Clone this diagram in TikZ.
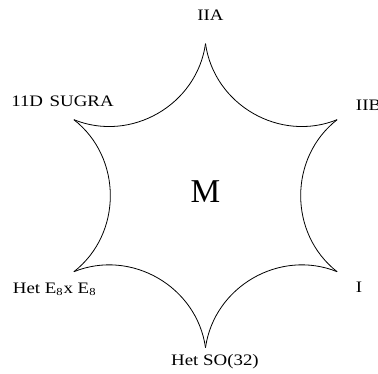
\documentclass[tikz,border=0pt]{standalone}
\usepackage{fontspec}
\setmainfont{Liberation Serif}
\usepackage{graphicx}
\usetikzlibrary{positioning}
\definecolor{MtInk}{RGB}{0,0,0}
\newcommand{\mtwide}[1]{\scalebox{1.18}[1]{#1}}
\tikzset{
  mt/label/.style={
    inner sep=0pt,
    text=MtInk,
    font=\fontsize{12}{14}\selectfont
  },
  mt/big/.style={
    inner sep=0pt,
    text=MtInk,
    font=\fontsize{25}{29}\selectfont
  },
  mt/edge/.style={draw=MtInk, line width=0.6pt, bend right=52, looseness=1.04}
}

\begin{document}
\begin{tikzpicture}[x=0.75pt,y=0.75pt]
  \useasboundingbox (0,0) rectangle (378,374);
  % cusps of the star
  \coordinate (iia) at (205.5,330.3);
  \coordinate (iib) at (337.1,254.3);
  \coordinate (typeI) at (337.1,102.3);
  \coordinate (hetSO) at (205.5,26.3);
  \coordinate (hetE) at (73.9,102.3);
  \coordinate (sugra) at (73.9,254.3);
  \draw[mt/edge] (iia) to (iib);
  \draw[mt/edge] (iib) to (typeI);
  \draw[mt/edge] (typeI) to (hetSO);
  \draw[mt/edge] (hetSO) to (hetE);
  \draw[mt/edge] (hetE) to (sugra);
  \draw[mt/edge] (sugra) to (iia);
  % labels
  \node[mt/label,anchor=base] (iiaLabel) at (210.5,353.3) {\mtwide{IIA}};
  \node[mt/label,anchor=base west] (iibLabel) at (355.7,263) {\mtwide{IIB}};
  \node[mt/label,anchor=base west] (typeILabel) at (355.7,81) {\mtwide{I}};
  \node[mt/label,anchor=base] (hetSOLabel) at (215,8.3) {\mtwide{Het SO(32)}};
  \node[mt/label,anchor=base west] (hetELabel) at (12.7,80.7) {\mtwide{Het E\textsubscript{8}x E\textsubscript{8}}};
  \node[mt/label,anchor=base west] (sugraLabel) at (11,267) {\mtwide{11D\hspace{0.35em}SUGRA}};
  \node[mt/big,anchor=base] (mLabel) at (205.5,171.7) {M};
\end{tikzpicture}
\end{document}
